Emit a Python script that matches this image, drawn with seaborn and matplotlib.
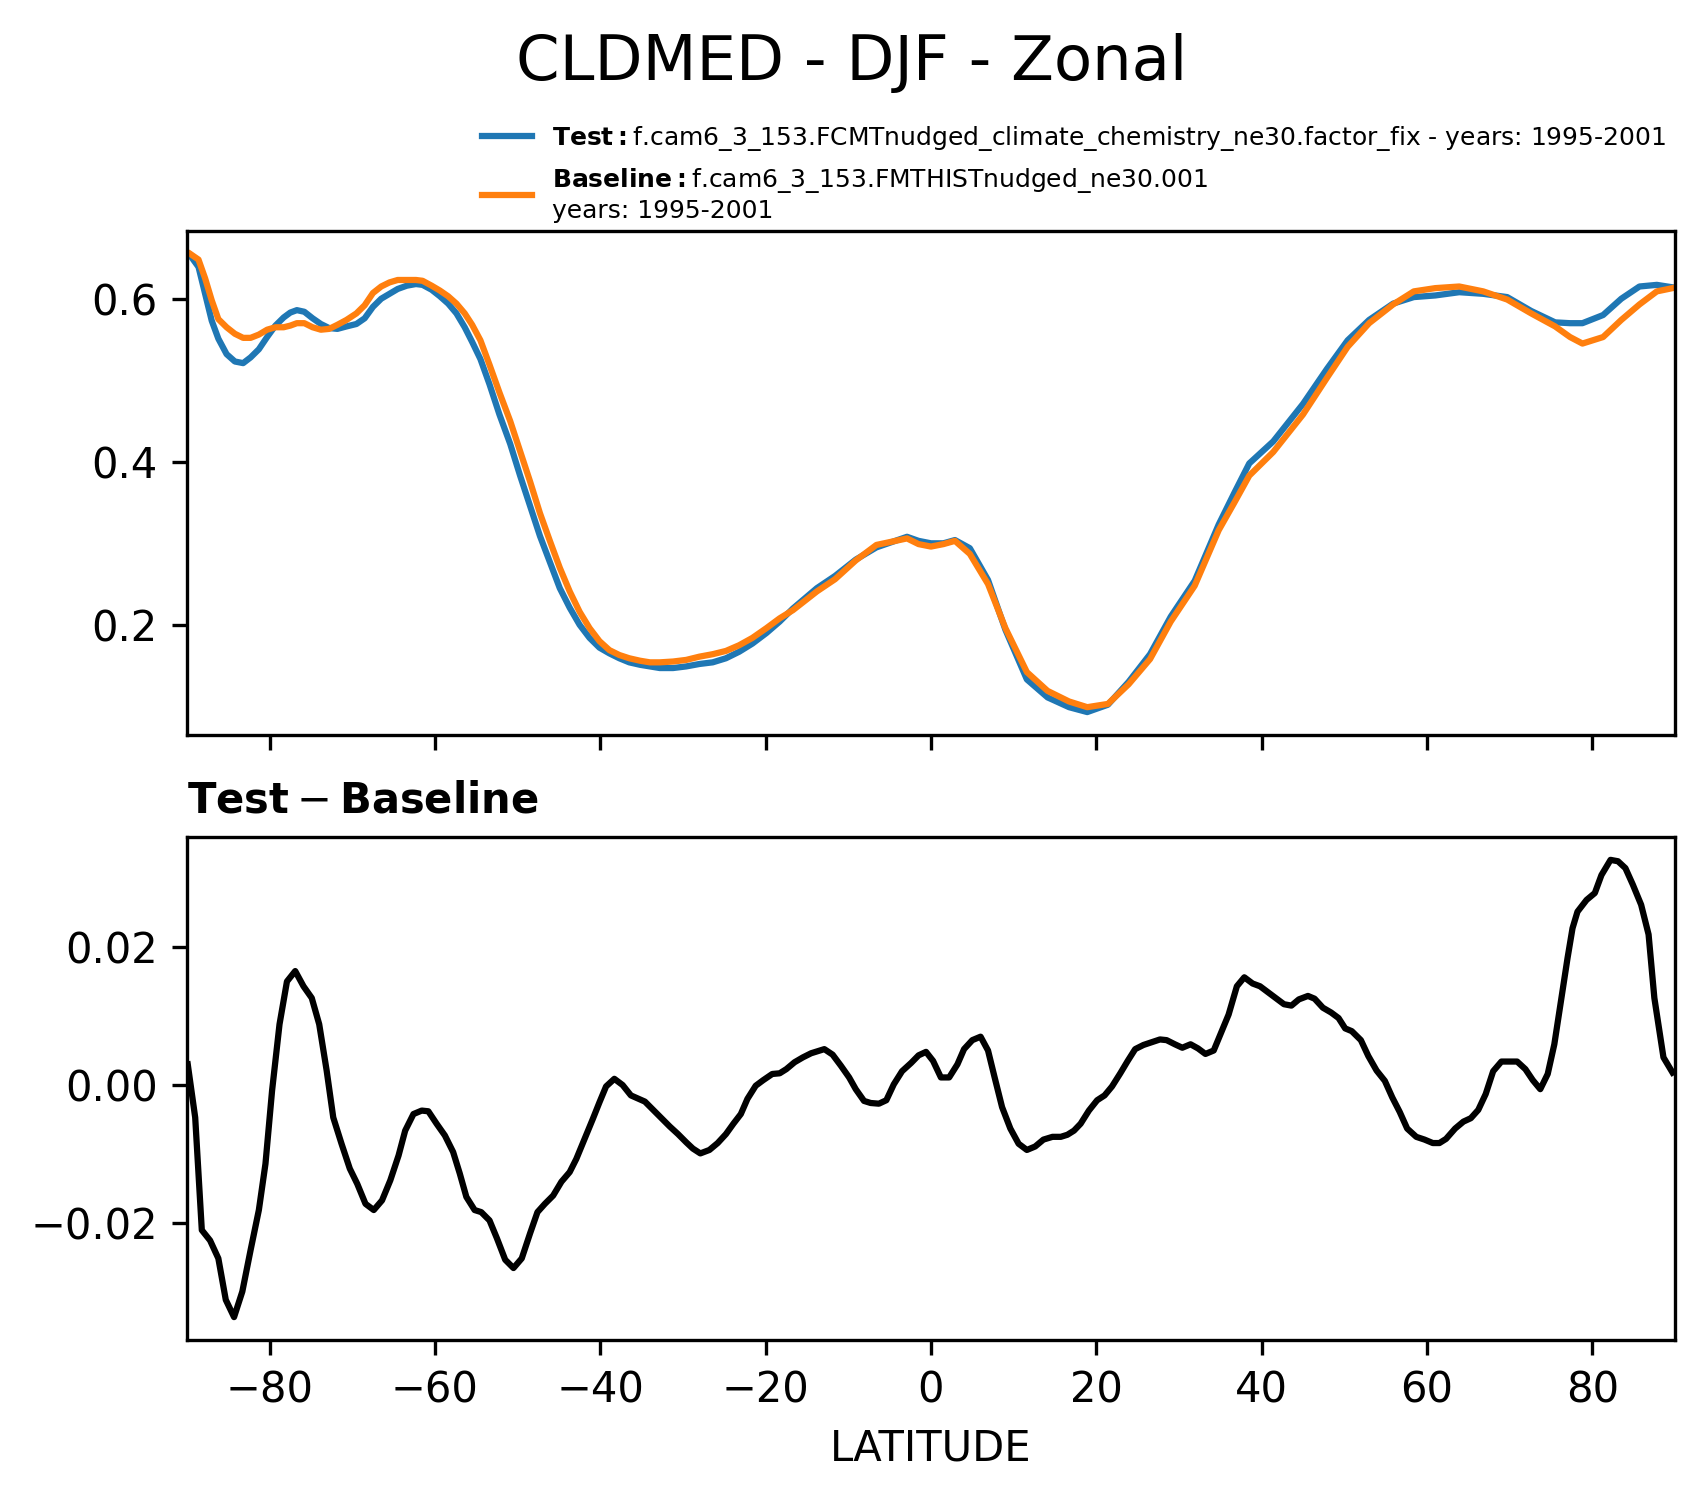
import matplotlib
matplotlib.use('Agg')
import matplotlib.pyplot as plt
import seaborn as sns
import pandas as pd

# ---- values ----
lat_top = [-89.6, -88.6, -87.8, -87.0, -86.2, -85.2, -84.2, -83.2, -82.3, -81.3,
           -80.3, -79.3, -78.3, -77.5, -76.7, -75.8, -74.8, -73.8, -72.8, -71.8,
           -70.7, -69.5, -68.5, -67.5, -66.5, -65.5, -64.5, -63.4, -62.3, -61.5,
           -60.4, -59.4, -58.4, -57.4, -56.4, -55.5, -54.5, -53.4, -52.2, -50.9,
           -49.7, -48.5, -47.3, -46.1, -44.9, -43.7, -42.5, -41.3, -40.1, -38.9,
           -37.7, -36.5, -35.2, -34.0, -32.8, -31.2, -29.6, -28.0, -26.4, -24.8,
           -23.2, -21.6, -19.9, -18.3, -16.7, -13.8, -11.6, -9.1, -6.6, -2.9,
           -1.5, 0.0, 1.5, 2.9, 4.7, 6.9, 9.0, 11.6, 14.1, 16.7,
           18.9, 21.4, 23.9, 26.5, 29.0, 31.9, 34.8, 36.7, 38.5, 41.4,
           45.0, 47.9, 50.4, 53.0, 55.9, 58.4, 61.0, 63.9, 66.8, 69.7,
           72.6, 75.5, 77.3, 78.8, 81.3, 83.5, 85.7, 87.8, 89.7]

test_vals = [0.653, 0.639, 0.606, 0.573, 0.551, 0.532, 0.523, 0.521, 0.528, 0.538,
             0.553, 0.567, 0.577, 0.583, 0.586, 0.584, 0.576, 0.569, 0.564, 0.563,
             0.566, 0.569, 0.576, 0.590, 0.600, 0.606, 0.612, 0.616, 0.618, 0.617,
             0.611, 0.603, 0.594, 0.582, 0.565, 0.547, 0.526, 0.495, 0.458, 0.422,
             0.383, 0.346, 0.309, 0.277, 0.245, 0.221, 0.200, 0.184, 0.172, 0.165,
             0.159, 0.154, 0.151, 0.149, 0.147, 0.147, 0.149, 0.152, 0.154, 0.159,
             0.167, 0.177, 0.190, 0.204, 0.220, 0.245, 0.260, 0.280, 0.295, 0.308,
             0.303, 0.300, 0.300, 0.304, 0.294, 0.255, 0.194, 0.133, 0.111, 0.099,
             0.093, 0.102, 0.130, 0.164, 0.210, 0.254, 0.323, 0.362, 0.398, 0.425,
             0.471, 0.514, 0.549, 0.574, 0.594, 0.602, 0.604, 0.608, 0.606, 0.602,
             0.585, 0.571, 0.570, 0.570, 0.580, 0.600, 0.615, 0.617, 0.614]

base_vals = [0.655, 0.648, 0.625, 0.598, 0.575, 0.565, 0.557, 0.552, 0.552, 0.556,
             0.562, 0.565, 0.565, 0.567, 0.570, 0.570, 0.565, 0.562, 0.563, 0.568,
             0.574, 0.582, 0.592, 0.607, 0.615, 0.620, 0.623, 0.623, 0.623, 0.622,
             0.616, 0.610, 0.603, 0.594, 0.582, 0.568, 0.549, 0.519, 0.485, 0.450,
             0.413, 0.376, 0.337, 0.303, 0.270, 0.241, 0.216, 0.196, 0.180, 0.169,
             0.163, 0.159, 0.156, 0.154, 0.154, 0.155, 0.157, 0.161, 0.164, 0.168,
             0.175, 0.184, 0.196, 0.208, 0.218, 0.241, 0.256, 0.279, 0.298, 0.306,
             0.299, 0.296, 0.299, 0.303, 0.287, 0.250, 0.196, 0.142, 0.119, 0.106,
             0.099, 0.103, 0.127, 0.158, 0.204, 0.248, 0.316, 0.350, 0.383, 0.412,
             0.458, 0.503, 0.541, 0.570, 0.593, 0.609, 0.613, 0.615, 0.609, 0.599,
             0.582, 0.566, 0.553, 0.545, 0.553, 0.574, 0.593, 0.609, 0.613]

# ---- Test - Baseline curve ----
lat_diff = [-89.9, -89.0, -88.2, -87.2, -86.2, -85.3, -84.3, -83.3, -82.3, -81.3,
            -80.5, -79.7, -78.8, -77.9, -76.9, -75.9, -74.9, -74.0, -73.1, -72.3,
            -71.3, -70.3, -69.4, -68.4, -67.4, -66.4, -65.4, -64.4, -63.6, -62.6,
            -61.6, -60.8, -59.8, -58.8, -57.8, -57.0, -56.2, -55.2, -54.4, -53.4,
            -52.5, -51.5, -50.5, -49.5, -48.5, -47.6, -46.7, -45.7, -44.7, -43.7,
            -42.9, -41.9, -40.9, -40.1, -39.3, -38.3, -37.3, -36.3, -34.6, -33.6,
            -32.6, -31.6, -30.6, -29.6, -28.8, -27.9, -26.8, -25.8, -24.8, -23.9,
            -23.0, -22.2, -21.2, -20.3, -19.2, -18.3, -17.5, -16.5, -15.5, -14.5,
            -13.7, -12.9, -11.9, -10.9, -9.9, -9.1, -8.1, -7.3, -6.3, -5.4,
            -4.5, -3.5, -2.4, -1.5, -0.6, 0.25, 1.2, 2.2, 3.2, 4.0,
            5.0, 6.0, 6.9, 7.7, 8.6, 9.6, 10.6, 11.6, 12.6, 13.6,
            14.7, 15.7, 16.5, 17.3, 18.1, 19.1, 20.1, 21.0, 21.9, 22.9,
            23.8, 24.7, 25.7, 26.7, 27.7, 28.5, 29.5, 30.4, 31.4, 32.3,
            33.2, 34.2, 35.0, 36.0, 37.0, 37.9, 38.9, 39.8, 40.8, 41.8,
            42.7, 43.6, 44.5, 45.6, 46.4, 47.4, 48.4, 49.3, 50.1, 50.9,
            52.0, 52.9, 53.9, 54.9, 55.8, 56.7, 57.6, 58.7, 59.7, 60.7,
            61.5, 62.3, 63.4, 64.4, 65.3, 66.2, 67.1, 68.0, 69.0, 70.0,
            70.9, 71.9, 72.8, 73.7, 74.6, 75.4, 76.2, 77.0, 77.6, 78.2,
            79.3, 80.3, 81.1, 82.2, 83.1, 84.0, 84.9, 85.9, 86.8, 87.5,
            88.6, 89.7]

diff_vals = [0.0030, -0.0047, -0.0210, -0.0225, -0.0251, -0.0311, -0.0336, -0.0299, -0.0239, -0.0181,
             -0.0114, -0.0008, 0.0088, 0.0150, 0.0165, 0.0143, 0.0126, 0.0088, 0.0021, -0.0047,
             -0.0085, -0.0121, -0.0143, -0.0172, -0.0181, -0.0167, -0.0138, -0.0102, -0.0066, -0.0042,
             -0.0037, -0.0038, -0.0056, -0.0073, -0.0097, -0.0128, -0.0162, -0.0181, -0.0184, -0.0196,
             -0.0222, -0.0253, -0.0265, -0.0251, -0.0215, -0.0184, -0.0172, -0.0160, -0.0140, -0.0126,
             -0.0107, -0.0078, -0.0049, -0.0025, -0.0002, 0.0009, 0.0000, -0.0015, -0.0024, -0.0036,
             -0.0048, -0.0060, -0.0071, -0.0083, -0.0092, -0.0099, -0.0094, -0.0084, -0.0071, -0.0056,
             -0.0042, -0.0020, -0.0001, 0.0007, 0.0016, 0.0017, 0.0023, 0.0033, 0.0040, 0.0046,
             0.0049, 0.0052, 0.0044, 0.0028, 0.0011, -0.0006, -0.0023, -0.0026, -0.0027, -0.0022,
             0.0001, 0.0020, 0.0032, 0.0043, 0.0048, 0.0035, 0.0011, 0.0011, 0.0030, 0.0052,
             0.0065, 0.0070, 0.0050, 0.0011, -0.0032, -0.0063, -0.0085, -0.0094, -0.0089, -0.0079,
             -0.0075, -0.0075, -0.0072, -0.0066, -0.0056, -0.0037, -0.0022, -0.0015, -0.0002, 0.0017,
             0.0035, 0.0052, 0.0058, 0.0062, 0.0066, 0.0065, 0.0059, 0.0054, 0.0059, 0.0053,
             0.0045, 0.0050, 0.0073, 0.0102, 0.0143, 0.0156, 0.0147, 0.0143, 0.0134, 0.0125,
             0.0117, 0.0115, 0.0124, 0.0129, 0.0125, 0.0112, 0.0105, 0.0097, 0.0082, 0.0078,
             0.0065, 0.0042, 0.0021, 0.0006, -0.0018, -0.0039, -0.0063, -0.0075, -0.0079, -0.0084,
             -0.0084, -0.0078, -0.0063, -0.0053, -0.0048, -0.0036, -0.0013, 0.0020, 0.0034, 0.0034,
             0.0034, 0.0023, 0.0007, -0.0006, 0.0016, 0.0059, 0.0122, 0.0184, 0.0227, 0.0251,
             0.0268, 0.0278, 0.0304, 0.0326, 0.0324, 0.0314, 0.0290, 0.0261, 0.0218, 0.0126,
             0.0040, 0.0018]

test_name = 'f.cam6_3_153.FCMTnudged_climate_chemistry_ne30.factor_fix - years: 1995-2001'
base_name = 'f.cam6_3_153.FMTHISTnudged_ne30.001\nyears: 1995-2001'

zonal = pd.DataFrame({'lat': lat_top, 'test': test_vals, 'base': base_vals})
delta = pd.DataFrame({'lat': lat_diff, 'diff': diff_vals})

fig = plt.figure(figsize=(5.68, 4.9867), dpi=300)
ax1 = fig.add_axes([0.1097, 0.5087, 0.8733, 0.3369])
ax2 = fig.add_axes([0.1097, 0.1043, 0.8733, 0.3362], sharex=ax1)

###  top: test vs baseline
sns.lineplot(data=zonal, x='lat', y='test', ax=ax1, color='#1f77b4', lw=1.5,
             label=r'$\bf{Test}:$' + test_name)
sns.lineplot(data=zonal, x='lat', y='base', ax=ax1, color='#ff7f0e', lw=1.5,
             label=r'$\bf{Baseline}:$' + base_name)
handles, labels = ax1.get_legend_handles_labels()
ax1.get_legend().remove()
fig.legend(handles, labels, loc='upper left', bbox_to_anchor=(0.2695, 0.932),
           frameon=False, fontsize=6)
ax1.set_xlabel('')
ax1.set_ylabel('')
ax1.tick_params(labelbottom=False)

###  bottom: difference
sns.lineplot(data=delta, x='lat', y='diff', ax=ax2, color='black', lw=1.5)
ax2.set_title(r'$\mathbf{Test} - \mathbf{Baseline}$', loc='left', fontsize=10)
ax2.set_xlabel('LATITUDE', fontsize=10)
ax2.set_ylabel('')
ax2.set_xlim(-90, 90)
ax2.set_xticks([-80, -60, -40, -20, 0, 20, 40, 60, 80])

fig.suptitle('CLDMED - DJF - Zonal', fontsize=15, y=0.978)

fig.savefig('out.png', dpi=300)
